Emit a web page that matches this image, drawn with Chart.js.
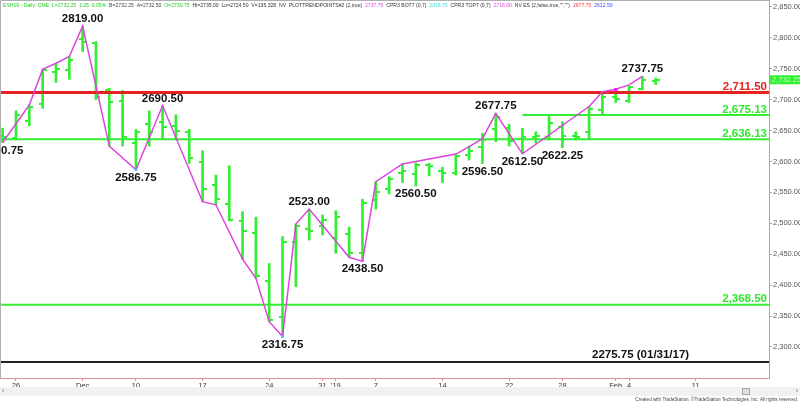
<!DOCTYPE html>
<html>
<head>
<meta charset="utf-8">
<script src="https://cdn.jsdelivr.net/npm/chart.js@4.4.1/dist/chart.umd.min.js"></script>
<style>
  html, body { margin: 0; padding: 0; background: #fff; }
  canvas { display: block; }
</style>
</head>
<body>
<canvas id="chart" width="800" height="402"></canvas>
<script>
// ESH19 daily bars, Nov 23 2018 - Feb 6 2019 (trading days only)
const days = ['11/23','11/26','11/27','11/28','11/29','11/30','12/03','12/04','12/06','12/07',
  '12/10','12/11','12/12','12/13','12/14','12/17','12/18','12/19','12/20','12/21','12/24','12/26',
  '12/27','12/28','12/31','01/02','01/03','01/04','01/07','01/08','01/09','01/10','01/11','01/14',
  '01/15','01/16','01/17','01/18','01/22','01/23','01/24','01/25','01/28','01/29','01/30','01/31',
  '02/01','02/04','02/05','02/06'];
const opens = [2641,2638,2665.75,2692.75,2745.5,2748,2798,2792.5,2716,2698,2630,2660,2664,2658,2648,
  2600,2562,2532,2503,2485,2407,2349,2470,2491,2496,2476,2483,2451.5,2538,2555,2582,2580,2594,2585,
  2581,2610,2623,2652,2655,2636,2640,2640,2656.5,2642,2648,2684,2705,2698.5,2717,2730.75];
const highs = [2654,2682,2691.5,2749,2759,2770,2819,2794,2718.5,2714.75,2652,2682,2690.5,2675.5,2652,
  2617.5,2578,2593,2519,2510,2435,2478.5,2499,2523,2513.5,2520.5,2493.75,2539,2567.5,2575.5,2596,2598,
  2597,2590.75,2612,2625,2645.75,2677.75,2660,2653.75,2648,2672.75,2664.5,2648,2689,2713,2717,2722,
  2737.75,2735];
const lows = [2630.75,2635,2657.5,2686,2728,2733,2778,2700,2625,2625,2586.75,2625,2636,2636,2597,
  2535,2530,2504,2442,2411,2341,2316.75,2397.5,2473,2481,2451.5,2445,2438.5,2523,2547.5,2566,2560.5,
  2576.75,2566,2578,2602.5,2596.5,2632,2625,2612.5,2630,2635,2622.25,2635,2636,2677,2695.5,2695.5,
  2716,2724.5];
const closes = [2640,2675,2689,2748,2749,2764,2794,2705,2696,2639,2647,2648,2656,2650,2605,2555,2540,
  2506,2487,2414,2344,2470,2496,2488,2505.5,2510,2451.5,2532.5,2551,2571,2584,2594.5,2593,2581,2609,
  2617,2635,2672.75,2633,2639,2641,2663,2641,2640,2684.5,2704,2700.5,2721,2732,2732.25];

// swing (trend point) line
const swingIdx = [0,2,3,4,5,6,8,10,12,15,16,18,19,20,21,22,23,26,27,28,30,34,35,36,37,39,44,45,46,47,48];
const swingPrice = [2630.75,2691.5,2749,2759,2770,2819,2625,2586.75,2690.5,2535,2530,2442,2411,2341,
  2316.75,2499,2523,2445,2438.5,2567.5,2596,2612,2624,2637,2677.75,2612.5,2689,2713,2717,2724,2737.75];

// labelled pivots (bar index)
const highPivots = [6,12,23,37,48];
const lowPivots = [0,10,21,27,31,36,39,42];

// markers
const botMarkIdx = [10,21];
const topMarkIdx = [46];
const topMarkVal = [2716.00];

// horizontal levels
const levels = [2711.50, 2675.13, 2636.13, 2368.50];
const levelStartIdx = [null, 39, null, null];
const oldLow = 2275.75;
const oldLowDate = '01/31/17';

// axes
const xMin = -0.2, xMax = 57.5;
const yMin = 2249.8, yMax = 2861.3;
const yTicks = [2300,2350,2400,2450,2500,2550,2600,2650,2700,2750,2800,2850];
const xTickIdx = [1,6,10,15,20,24,25,28,33,38,42,46,47,52];
const xTickText = ['26','Dec','10','17','24','31',"'19",'7','14','22','28','Feb','4','11'];

const GREEN = '#33ee33';
const RED = '#e42222';
const MAGENTA = '#dd44dd';
const AXIS = '#e09090';
const LABEL_FONT = 'bold 11.5px "Liberation Sans", Arial, sans-serif';

const fmt = v => v.toLocaleString('en-US', {minimumFractionDigits: 2, maximumFractionDigits: 2});

// open tick to the left of the bar, close tick to the right
function tickImage(side) {
  const c = document.createElement('canvas');
  c.width = 8; c.height = 2;
  const g = c.getContext('2d');
  g.fillStyle = GREEN;
  g.fillRect(side < 0 ? 0 : 4, 0, 4, 2);
  return c;
}

const header = [
  ['ESH19 - Daily  CME  L=2732.25  1.25  0.05%', '#22cc22'],
  ['B=2732.25  A=2732.50', '#444'],
  ['O=2730.75', '#22cc22'],
  ['Hi=2735.00  Lo=2724.50  V=135,328  NV  PLOTTRENDPOINTS#2 (2,true)', '#333'],
  ['2737.75', '#e040e0'],
  ['CPR3 BOT7 (0,7)', '#333'],
  ['2316.75', '#33dddd'],
  ['CPR3 TOP7 (0,7)', '#333'],
  ['2716.00', '#e040e0'],
  ['NV ES (2,false,true,"","")', '#333'],
  ['2677.75', '#ff3333'],
  ['2612.50', '#3344ff']
];

const overlay = {
  id: 'overlay',
  afterDatasetsDraw(chart) {
    const {ctx, chartArea: a, scales: {x, y}} = chart;
    ctx.save();
    ctx.font = LABEL_FONT;
    ctx.textBaseline = 'alphabetic';

    // level labels on the right
    ctx.textAlign = 'right';
    levels.forEach((v, k) => {
      ctx.fillStyle = k === 0 ? RED : '#2ee82e';
      ctx.fillText(fmt(v), a.right - 2, y.getPixelForValue(v) - 2.5);
    });
    ctx.textAlign = 'left';
    ctx.fillStyle = '#111';
    ctx.fillText(oldLow.toFixed(2) + ' (' + oldLowDate + ')', a.right - 177, y.getPixelForValue(oldLow) - 3.5);

    // pivot labels
    ctx.textAlign = 'center';
    highPivots.forEach(i => {
      ctx.fillText(highs[i].toFixed(2), x.getPixelForValue(i), y.getPixelForValue(highs[i]) - 4);
    });
    lowPivots.forEach(i => {
      ctx.fillText(lows[i].toFixed(2), x.getPixelForValue(i), y.getPixelForValue(lows[i]) + 11);
    });
    ctx.restore();
  },
  afterDraw(chart) {
    const {ctx, chartArea: a, scales: {y}} = chart;
    ctx.save();

    // frame
    ctx.strokeStyle = '#b0b0b0';
    ctx.lineWidth = 1;
    ctx.beginPath();
    ctx.moveTo(0.5, a.bottom); ctx.lineTo(0.5, 0.5); ctx.lineTo(a.right, 0.5);
    ctx.stroke();

    // header line
    ctx.font = '5.1px "Liberation Sans", Arial, sans-serif';
    ctx.textBaseline = 'middle';
    ctx.textAlign = 'left';
    let hx = 3;
    const gap = ctx.measureText('  ').width;
    header.forEach(([t, c]) => {
      ctx.fillStyle = c;
      ctx.fillText(t, hx, 6);
      hx += ctx.measureText(t).width + gap;
    });

    // last price box
    const last = closes[closes.length - 1];
    const py = y.getPixelForValue(last);
    ctx.fillStyle = GREEN;
    ctx.fillRect(a.right + 1, py - 4.5, 800 - a.right - 1, 9);
    ctx.fillStyle = '#c8ffc8';
    ctx.font = '7.5px "Liberation Sans", Arial, sans-serif';
    ctx.fillText(fmt(last), a.right + 3, py + 0.5);

    // scroll bar
    ctx.fillStyle = '#f1f1f1';
    ctx.fillRect(0, 387, 800, 9);
    ctx.fillStyle = '#dcdcdc';
    ctx.fillRect(742, 388, 8, 7);
    ctx.strokeStyle = '#aaa';
    ctx.strokeRect(742.5, 388.5, 7, 6);
    ctx.fillStyle = '#777';
    ctx.font = '7px "Liberation Sans", Arial, sans-serif';
    ctx.fillText('\u2039', 2, 391.5);
    ctx.textAlign = 'right';
    ctx.fillText('\u203a', 798, 391.5);

    // copyright
    ctx.font = '4.6px "Liberation Sans", Arial, sans-serif';
    ctx.fillStyle = '#444';
    ctx.textBaseline = 'alphabetic';
    ctx.fillText('Created with TradeStation. \u00a9TradeStation Technologies, Inc. All rights reserved.', 798, 401);
    ctx.restore();
  }
};

const levelSets = levels.map((v, k) => ({
  type: 'line',
  data: [{x: levelStartIdx[k] === null ? xMin : levelStartIdx[k], y: v}, {x: xMax, y: v}],
  borderColor: k === 0 ? RED : GREEN,
  borderWidth: k === 0 ? 3 : 2,
  pointRadius: 0,
  order: 2
}));
levelSets.push({
  type: 'line',
  data: [{x: xMin, y: oldLow}, {x: xMax, y: oldLow}],
  borderColor: '#222',
  borderWidth: 2,
  pointRadius: 0,
  order: 2
});

new Chart(document.getElementById('chart'), {
  type: 'bar',
  data: {
    datasets: [
      {
        type: 'bar',
        data: days.map((d, i) => ({x: i, y: [lows[i], highs[i]]})),
        backgroundColor: GREEN,
        borderWidth: 0,
        barThickness: 2,
        grouped: false,
        order: 4
      },
      {
        type: 'scatter',
        data: opens.map((v, i) => ({x: i, y: v})),
        pointStyle: tickImage(-1),
        pointRadius: 3,
        order: 3
      },
      {
        type: 'scatter',
        data: closes.map((v, i) => ({x: i, y: v})),
        pointStyle: tickImage(1),
        pointRadius: 3,
        order: 3
      },
      ...levelSets,
      {
        type: 'line',
        data: swingIdx.map((i, k) => ({x: i, y: swingPrice[k]})),
        borderColor: MAGENTA,
        borderWidth: 1.5,
        pointRadius: 0,
        tension: 0,
        order: 1
      },
      {
        type: 'scatter',
        data: botMarkIdx.map(i => ({x: i, y: lows[i]})),
        pointStyle: 'rect',
        pointRadius: 1.8,
        backgroundColor: '#33ccff',
        borderWidth: 0,
        order: 0
      },
      {
        type: 'scatter',
        data: topMarkIdx.map((i, k) => ({x: i, y: topMarkVal[k]})),
        pointStyle: 'circle',
        pointRadius: 2,
        backgroundColor: '#ee22ee',
        borderWidth: 0,
        order: 0
      }
    ]
  },
  options: {
    responsive: false,
    animation: false,
    events: [],
    layout: {padding: 0, autoPadding: false},
    plugins: {legend: {display: false}, tooltip: {enabled: false}},
    scales: {
      x: {
        type: 'linear',
        min: xMin,
        max: xMax,
        offset: false,
        afterBuildTicks: s => { s.ticks = xTickIdx.map(v => ({value: v})); },
        afterFit: s => { s.height = 24; s.paddingLeft = 0; s.paddingRight = 0; },
        ticks: {
          autoSkip: false,
          maxRotation: 0,
          padding: 0,
          color: '#333',
          font: {size: 7.5, family: '"Liberation Sans", Arial, sans-serif'},
          callback: (v, i) => xTickText[i]
        },
        grid: {drawOnChartArea: false, tickLength: 3, color: AXIS, offset: false},
        border: {color: AXIS}
      },
      y: {
        position: 'right',
        min: yMin,
        max: yMax,
        afterBuildTicks: s => { s.ticks = yTicks.map(v => ({value: v})); },
        afterFit: s => { s.width = 31; s.paddingTop = 0; s.paddingBottom = 0; },
        ticks: {
          padding: 1,
          color: '#555',
          font: {size: 7.5, family: '"Liberation Sans", Arial, sans-serif'},
          callback: v => fmt(v)
        },
        grid: {drawOnChartArea: false, tickLength: 3, color: AXIS},
        border: {color: AXIS}
      }
    }
  },
  plugins: [overlay]
});
</script>
</body>
</html>
